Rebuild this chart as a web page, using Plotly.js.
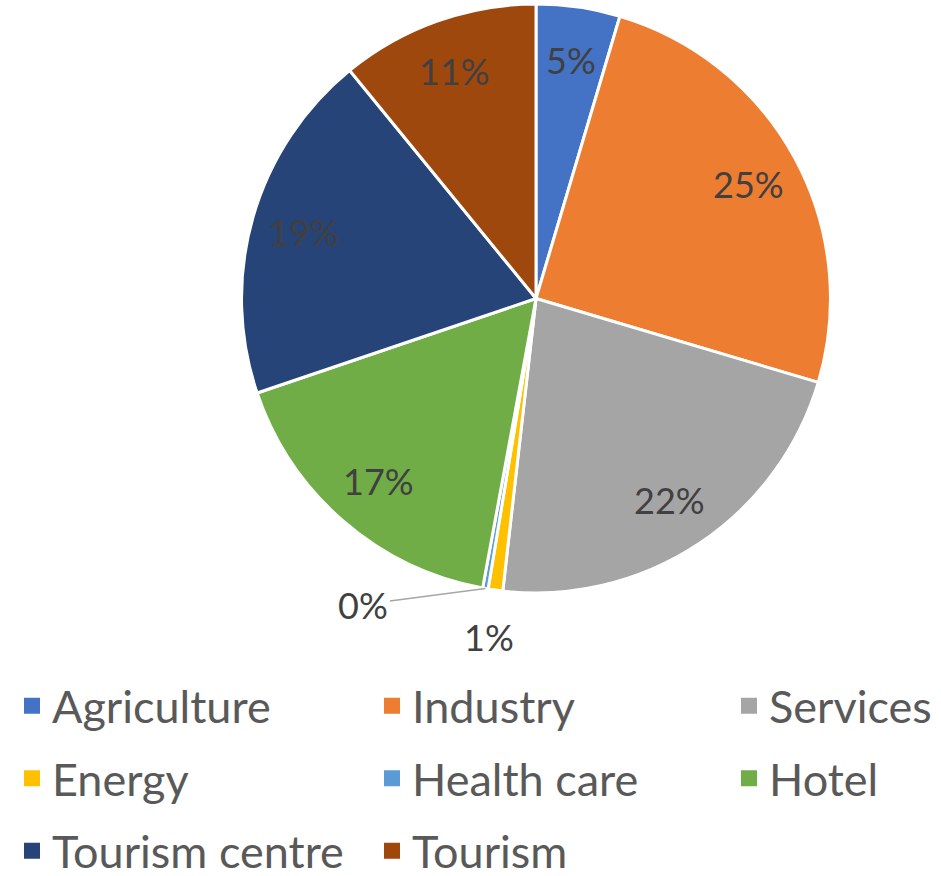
<!DOCTYPE html>
<html>
<head>
<meta charset="utf-8">
<script src="https://cdn.plot.ly/plotly-3.0.1.min.js"></script>
<style>html,body{margin:0;padding:0;background:#fff;}#chart{width:941px;height:876px;}</style>
</head>
<body>
<div id="chart"></div>
<script>
// ---- data ----
const sectors = ["Agriculture", "Industry", "Services", "Energy", "Health care", "Hotel", "Tourism centre", "Tourism"];
const shares = [4.6, 25.0, 22.2, 0.8, 0.3, 16.9, 19.3, 10.9];
const legendColumns = [["Agriculture", "Energy", "Tourism centre"], ["Industry", "Health care", "Tourism"], ["Services", "Hotel"]];

// ---- styles ----
const colors = ["#4472C4", "#ED7D31", "#A5A5A5", "#FFC000", "#5B9BD5", "#70AD47", "#264478", "#9E480E"];
const FONT = "Lato, 'Open Sans', sans-serif";
const W = 941, H = 876;
const pieDomain = {x: [0.2566, 0.8826], y: [0.3231, 0.9954]};

const traces = [{
  type: "pie",
  labels: sectors,
  values: shares,
  sort: false,
  direction: "clockwise",
  rotation: 0,
  marker: {colors: colors, line: {color: "#ffffff", width: 3}},
  textinfo: "none",
  showlegend: false,
  hoverinfo: "label+percent",
  domain: pieDomain
}];

// legend entries (one legend per column, one group per entry for row spacing)
const legendNames = ["legend", "legend2", "legend3"];
legendColumns.forEach((col, c) => {
  col.forEach(name => {
    const idx = sectors.indexOf(name);
    traces.push({
      type: "scatter", mode: "markers", x: [null], y: [null],
      name: name, legendgroup: name,
      marker: {symbol: "square", size: 16, color: colors[idx]},
      legend: legendNames[c],
      showlegend: true, hoverinfo: "skip"
    });
  });
});

// percentage labels placed along each slice's bisector, derived from the values
const total = shares.reduce((a, b) => a + b, 0);
const cxP = (pieDomain.x[0] + pieDomain.x[1]) / 2;
const cyP = (pieDomain.y[0] + pieDomain.y[1]) / 2;
const Rpx = Math.min((pieDomain.x[1] - pieDomain.x[0]) * W, (pieDomain.y[1] - pieDomain.y[0]) * H) / 2;
const annotations = [];
let cum = 0;
shares.forEach((v, i) => {
  const frac = v / total;
  const mid = (cum + frac / 2) * 2 * Math.PI;
  cum += frac;
  const pct = Math.round(frac * 100) + "%";
  const base = {text: pct, xref: "paper", yref: "paper", showarrow: false,
    font: {family: FONT, size: 36, color: "#404040"}, xanchor: "center", yanchor: "middle"};
  if (frac >= 0.02) {
    const k = 0.82;
    annotations.push(Object.assign(base, {
      x: cxP + k * Rpx * Math.sin(mid) / W, y: cyP + k * Rpx * Math.cos(mid) / H}));
  } else if (v >= 0.5) {
    const k = 1.16;
    annotations.push(Object.assign(base, {
      x: cxP + k * Rpx * Math.sin(mid) / W, y: cyP + k * Rpx * Math.cos(mid) / H}));
  } else {
    annotations.push(Object.assign(base, {
      x: cxP + Rpx * Math.sin(mid) / W, y: cyP + Rpx * Math.cos(mid) / H,
      showarrow: true, arrowhead: 0, arrowwidth: 1.5, arrowcolor: "#A6A6A6",
      ax: -122, ay: 16, standoff: 0}));
  }
});

const legendBase = {
  orientation: "v", xanchor: "left", yanchor: "top", y: 1 - 670 / H,
  font: {family: FONT, size: 45, color: "#595959"},
  tracegroupgap: 11, itemsizing: "trace",
  bgcolor: "rgba(0,0,0,0)", borderwidth: 0
};

const layout = {
  width: W, height: H,
  margin: {l: 0, r: 0, t: 0, b: 0, autoexpand: false},
  paper_bgcolor: "#ffffff", plot_bgcolor: "#ffffff",
  xaxis: {visible: false}, yaxis: {visible: false},
  legend: Object.assign({}, legendBase, {x: 12 / W}),
  legend2: Object.assign({}, legendBase, {x: 372 / W}),
  legend3: Object.assign({}, legendBase, {x: 729 / W}),
  annotations: annotations,
  showlegend: true
};

Plotly.newPlot("chart", traces, layout, {displayModeBar: false, staticPlot: true});
</script>
</body>
</html>
